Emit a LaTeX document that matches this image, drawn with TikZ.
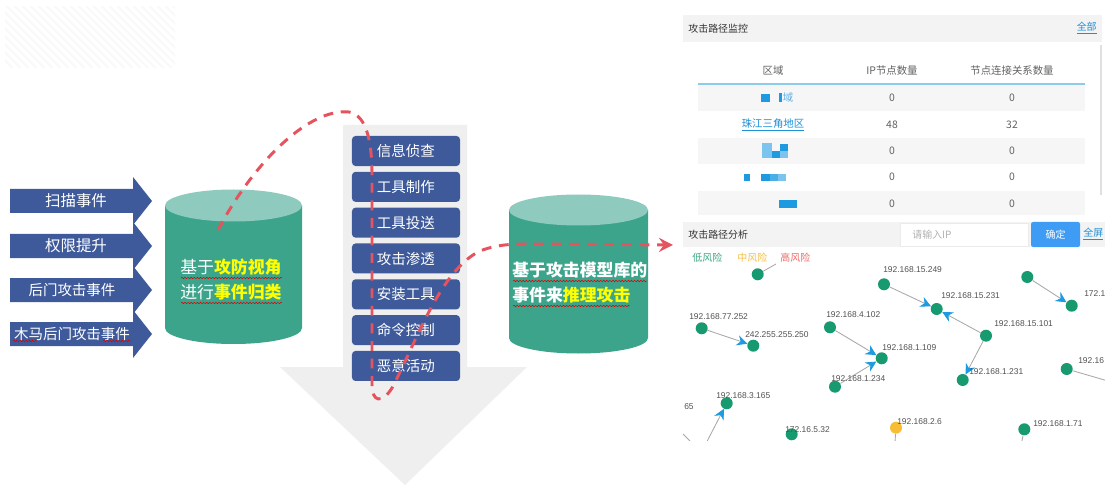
\documentclass[tikz,border=0pt]{standalone}
\usepackage{fontspec}
\setmainfont{Noto Sans CJK SC}
\newfontfamily\ipf{Liberation Sans}
\usetikzlibrary{arrows.meta,decorations.pathmorphing,patterns.meta}
\definecolor{evblue}{HTML}{3E5A9B}
\definecolor{tealbody}{HTML}{3DA48C}
\definecolor{tealtop}{HTML}{8ECBBE}
\definecolor{bigarrow}{HTML}{EFEFEF}
\definecolor{dashred}{HTML}{E5545E}
\definecolor{hiyellow}{HTML}{FFFF00}
\definecolor{panelhead}{HTML}{F3F3F3}
\definecolor{rowgray}{HTML}{F6F6F6}
\definecolor{linkblue}{HTML}{1E90D8}
\definecolor{tline}{HTML}{8CCBEA}
\definecolor{btnblue}{HTML}{3F9CF5}
\definecolor{nodegreen}{HTML}{179A6F}
\definecolor{nodeorange}{HTML}{F7BE35}
\definecolor{edgegray}{HTML}{A8A8A8}
\definecolor{arrowblue}{HTML}{1E9BE0}
\definecolor{lowrisk}{HTML}{3BAA82}
\definecolor{midrisk}{HTML}{F4C045}
\definecolor{highrisk}{HTML}{EE6B6B}
\definecolor{redact}{HTML}{1E9BE0}
\definecolor{redactlight}{HTML}{7CC4EE}
\newcommand\fsz[1]{\fontsize{#1}{#1}\selectfont}
\begin{document}
\begin{tikzpicture}[x=0.025cm,y=-0.025cm,
  evlabel/.style={text=white,inner sep=0},
  stagebox/.style={fill=evblue,rounded corners=2.5pt,minimum width=2.7cm,minimum height=0.75cm,inner sep=0},
  stagetext/.style={text=white,inner sep=0,anchor=west,font=\fsz{10.3pt}},
  cyltext/.style={inner sep=0,anchor=west,font=\fsz{12pt}},
  redpath/.style={draw=dashred,line width=2.1pt,dash pattern=on 7pt off 5.5pt},
  wavy/.style={draw=red!85!black,line width=0.35pt,decorate,decoration={snake,amplitude=0.5pt,segment length=2.2pt}},
  ptitle/.style={inner sep=0,anchor=west,text=black!80,font=\fsz{7.1pt}},
  ttext/.style={inner sep=0,text=black!62,font=\fsz{7.4pt}},
  gnode/.style={circle,fill=nodegreen,minimum size=0.3cm,inner sep=0},
  gedge/.style={draw=edgegray,line width=0.6pt},
  garrow/.style={gedge,-{Stealth[color=arrowblue,length=7.5pt,width=7.5pt,inset=2.5pt]}},
  iplabel/.style={inner sep=0,anchor=west,text=black!68,font=\ipf\fsz{6pt}},
]
\useasboundingbox (0,0) rectangle (1105,485);
\fill[white] (0,0) rectangle (1105,485);
% faint hatched block
\path[pattern={Lines[angle=-45,distance=4pt,line width=1.6pt]},pattern color=black!2.5] (5,7) rectangle (175,68);

% big gray arrow
\fill[bigarrow] (343,125) -- (467,125) -- (467,367) -- (527,367) -- (405,485) -- (280,367) -- (343,367) -- cycle;

% left event arrows
\foreach \y/\cx/\t/\s [count=\i] in {201/76/扫描事件/11pt, 246/76/权限提升/11pt, 290/72/后门攻击事件/10.3pt, 334/72/木马后门攻击事件/10.3pt}{
  \fill[evblue] (10,{\y-12}) -- (133,{\y-12}) -- (133,{\y-24}) -- (152,\y) -- (133,{\y+24}) -- (133,{\y+12}) -- (10,{\y+12}) -- cycle;
  \node[evlabel,font=\fsz{\s}] (ev\i) at (\cx,\y) {\t};
}
\draw[wavy] (13,341) -- (37,341);
\draw[wavy] (103,341) -- (131,341);

% left cylinder
\fill[tealbody] (165,205.5) -- (165,328) arc[start angle=180,end angle=0,x radius=68.5,y radius=16] -- (302,205.5) -- cycle;
\fill[tealtop] (233.5,205.5) ellipse[x radius=68.5,y radius=16];
\node[cyltext] (lc1) at (180,267) {\textcolor{white}{基于}\textcolor{hiyellow}{\bfseries 攻防视角}};
\node[cyltext] (lc2) at (180,292) {\textcolor{white}{进行}\textcolor{hiyellow}{\bfseries 事件归类}};
\draw[wavy] (181,278) -- (282,278);
\draw[wavy] (181,303) -- (282,303);

% right cylinder
\fill[tealbody] (509,210) -- (509,338) arc[start angle=180,end angle=0,x radius=69.5,y radius=15.5] -- (648,210) -- cycle;
\fill[tealtop] (578.5,210) ellipse[x radius=69.5,y radius=15.5];
\node[cyltext] (rc1) at (512,270) {\textcolor{white}{\bfseries 基于攻击模型库的}};
\node[cyltext] (rc2) at (512,295) {\textcolor{white}{\bfseries 事件来}\textcolor{hiyellow}{\bfseries 推理攻击}};
\draw[wavy] (513,281) -- (647,281);
\draw[wavy] (513,306) -- (630,306);

% stage boxes
\foreach \t [count=\i] in {信息侦查,工具制作,工具投送,攻击渗透,安装工具,命令控制,恶意活动}{
  \node[stagebox] (b\i) at (406,{151+(\i-1)*35.83}) {};
  \node[stagetext] (t\i) at ([xshift=0.625cm]b\i.west) {\t};
}

% red dashed path
\coordinate (r0) at (218,230);
\coordinate (rtop) at (349,112);
\coordinate (rv1) at (372,175);
\coordinate (rv2) at (372,385);
\coordinate (rup) at (392,388);
\coordinate (rmid) at (480,251);
\coordinate (rflat) at (540,244);
\coordinate (r9) at (673,245);
\draw[redpath,-{Stealth[length=10pt,width=10pt,inset=3.5pt]}] (r0) .. controls (255,160) and (310,108) .. (rtop) .. controls (366,115) and (372,140) .. (rv1) -- (rv2) .. controls (372,402) and (382,404) .. (rup) .. controls (415,345) and (440,270) .. (rmid) .. controls (500,243) and (520,244) .. (rflat) -- (r9);

% ===== top panel =====
\fill[panelhead] (683,15) rectangle (1102,42);
\node[ptitle] (pt1) at (688,28.5) {攻击路径监控};
\node[inner sep=0,anchor=east,text=linkblue,font=\fsz{7.1pt}] (all) at (1097,28.5) {\underline{全部}};
\fill[black!12] (1099.5,45) rectangle (1102,195);
\node[ttext] (h1) at (773,71) {区域};
\node[ttext] (h2) at (892,71) {IP节点数量};
\node[ttext] (h3) at (1012,71) {节点连接关系数量};
\draw[tline,line width=0.8pt] (698,84) -- (1085,84);
\fill[rowgray] (698,85) rectangle (1085,111);
\fill[rowgray] (698,138) rectangle (1085,164);
\fill[rowgray] (698,191) rectangle (1085,215);
% row 1
\fill[redact] (761,94) rectangle (770,102);
\fill[redact] (779,93) rectangle (782,102);
\node[ttext,text=linkblue!70] (r1a) at (788,98) {域};
\node[ttext] (r1b) at (892,98) {0};
\node[ttext] (r1c) at (1012,98) {0};
% row 2
\node[ttext,text=linkblue] (r2a) at (773,125) {\underline{珠江三角地区}};
\node[ttext] (r2b) at (892,125) {48};
\node[ttext] (r2c) at (1012,125) {32};
% row 3
\fill[redactlight] (762,143) rectangle (772,158);
\fill[redact] (772,151) rectangle (780,158);
\fill[redact] (780,144) rectangle (788,151);
\fill[redactlight] (780,151) rectangle (788,158);
\node[ttext] (r3b) at (892,151) {0};
\node[ttext] (r3c) at (1012,151) {0};
% row 4
\fill[redact] (744,174) rectangle (750,181);
\fill[redact] (761,174) rectangle (770,181);
\fill[redact!80] (770,174) rectangle (778,181);
\fill[redactlight] (778,174) rectangle (786,181);
\node[ttext] (r4b) at (892,177) {0};
\node[ttext] (r4c) at (1012,177) {0};
% row 5
\fill[redact] (779,200) rectangle (797,208);
\node[ttext] (r5b) at (892,204) {0};
\node[ttext] (r5c) at (1012,204) {0};

% ===== bottom panel =====
\fill[panelhead] (683,222) rectangle (1105,247);
\node[ptitle] (pt2) at (688,235) {攻击路径分析};
\draw[black!8,fill=white] (900,223) rectangle (1028,246);
\node[inner sep=0,anchor=west,text=black!30,font=\fsz{7.1pt}] (ipin) at (912,234.5) {请输入IP};
\fill[btnblue,rounded corners=1.5pt] (1031,222) rectangle (1080,247);
\node[inner sep=0,text=white,font=\fsz{7.1pt}] (ok) at (1055.5,234.5) {确定};
\node[inner sep=0,anchor=west,text=linkblue,font=\fsz{7.1pt}] (full) at (1083,234.5) {\underline{全屏}};
\node[inner sep=0,anchor=west,text=lowrisk,font=\fsz{7.1pt}] (lg1) at (692,258) {低风险};
\node[inner sep=0,anchor=west,text=midrisk,font=\fsz{7.1pt}] (lg2) at (737,258) {中风险};
\node[inner sep=0,anchor=west,text=highrisk,font=\fsz{7.1pt}] (lg3) at (780,258) {高风险};

\begin{scope}
\clip (683,247) rectangle (1105,440);
\node[gnode] (g1) at (757.7,274.3) {};
\node[gnode] (g249) at (884,284.3) {};
\node[gnode] (g231) at (936.7,309) {};
\node[gnode] (g1a) at (1027.3,277) {};
\node[gnode] (g172) at (1071.7,305.7) {};
\node[gnode] (g77) at (701.7,328.3) {};
\node[gnode] (g242) at (753.3,345.7) {};
\node[gnode] (g4102) at (830,327.3) {};
\node[gnode] (g1109) at (881.7,358.3) {};
\node[gnode] (g15101) at (986,335.7) {};
\node[gnode] (g1234) at (835,386.7) {};
\node[gnode] (g1231) at (962.7,380) {};
\node[gnode] (g19216) at (1066.7,369) {};
\node[gnode] (g3165) at (726.7,403.3) {};
\node[gnode] (g532) at (791.7,434.3) {};
\node[gnode,fill=nodeorange] (g26) at (896,427.7) {};
\node[gnode] (g171) at (1024.3,429.3) {};
\coordinate (c1) at (776,264);
\coordinate (c2) at (1108,381);
\coordinate (c3) at (706.7,442);
\coordinate (c4) at (895,442);
\coordinate (c5) at (1021.7,442);
\coordinate (c6a) at (683,434);
\coordinate (c6b) at (690,441);
\draw[gedge] (g1) -- (c1);
\draw[gedge] (g19216) -- (c2);
\draw[gedge] (g26) -- (c4);
\draw[gedge] (g171) -- (c5);
\draw[gedge] (c6a) -- (c6b);
\draw[garrow] (g249) -- (g231);
\draw[garrow] (g15101) -- (g231);
\draw[garrow] (g15101) -- (g1231);
\draw[garrow] (g1a) -- (g172);
\draw[garrow] (g77) -- (g242);
\draw[garrow] (g4102) -- (g1109);
\draw[garrow] (g1234) -- (g1109);
\draw[garrow] (c3) -- (g3165);
\node[iplabel] (l249) at (883,270) {192.168.15.249};
\node[iplabel] (l231) at (941,296) {192.168.15.231};
\node[iplabel] (l172) at (1084,294) {172.1};
\node[iplabel] (l77) at (689,316.7) {192.168.77.252};
\node[iplabel] (l242) at (745,335) {242.255.255.250};
\node[iplabel] (l4102) at (826,315) {192.168.4.102};
\node[iplabel] (l1109) at (882,348) {192.168.1.109};
\node[iplabel] (l15101) at (994,324) {192.168.15.101};
\node[iplabel] (l1234) at (831,379) {192.168.1.234};
\node[iplabel] (l1231) at (969,372) {192.168.1.231};
\node[iplabel] (l19216) at (1078,361) {192.16};
\node[iplabel] (l3165) at (716,396) {192.168.3.165};
\node[iplabel] (l65) at (684,407) {65};
\node[iplabel] (l532) at (785,430) {172.16.5.32};
\node[iplabel] (l26) at (897,421.7) {192.168.2.6};
\node[iplabel] (l171) at (1033,424) {192.168.1.71};
\end{scope}
\end{tikzpicture}
\end{document}
